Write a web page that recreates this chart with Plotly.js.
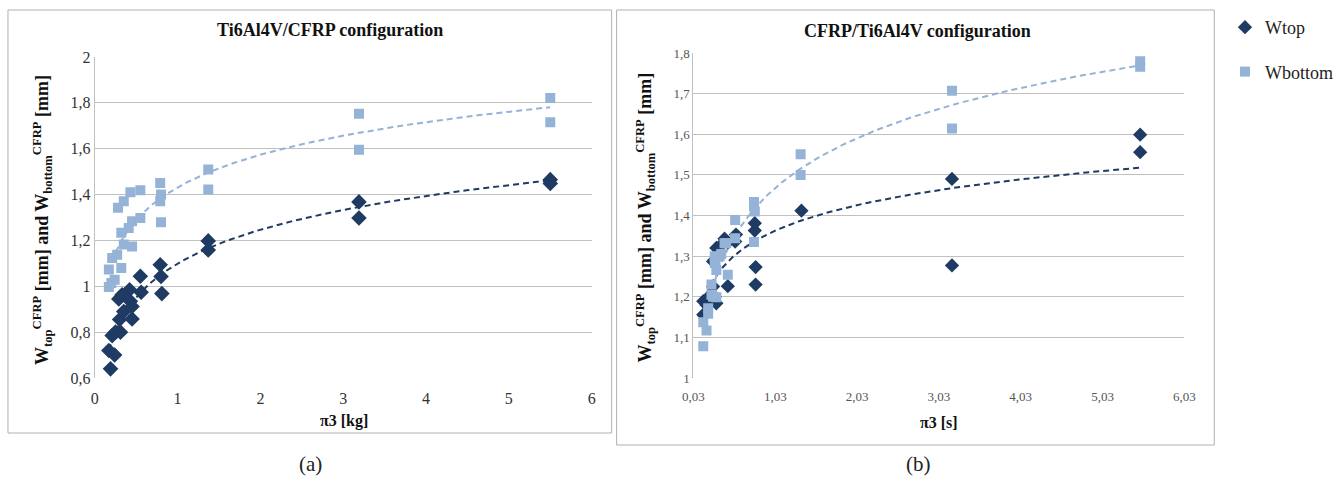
<!DOCTYPE html>
<html>
<head>
<meta charset="utf-8">
<script src="https://cdn.plot.ly/plotly-3.0.1.min.js"></script>
<style>html,body{margin:0;padding:0;background:#fff;}#chart{width:1338px;height:490px;}</style>
</head>
<body>
<div id="chart"></div>
<script>
// ---- Data: (a) Ti6Al4V/CFRP configuration ----
const aTopX = [0.19,0.17,0.24,0.21,0.25,0.31,0.30,0.35,0.45,0.29,0.33,0.42,0.43,0.45,0.55,0.56,0.79,0.80,0.81,1.37,1.37,3.19,3.19,5.50,5.50];
const aTopY = [0.64,0.72,0.70,0.785,0.80,0.80,0.855,0.89,0.857,0.945,0.963,0.985,0.935,0.912,1.044,0.974,1.094,1.043,0.968,1.198,1.158,1.368,1.298,1.465,1.448];
const aBotX = [0.17,0.20,0.17,0.21,0.27,0.24,0.32,0.35,0.32,0.45,0.41,0.45,0.55,0.28,0.35,0.43,0.55,0.79,0.79,0.80,0.80,1.37,1.37,3.19,3.19,5.50,5.50];
const aBotY = [0.997,1.014,1.073,1.123,1.138,1.029,1.08,1.182,1.233,1.174,1.254,1.284,1.298,1.342,1.371,1.41,1.419,1.451,1.371,1.40,1.279,1.422,1.509,1.753,1.596,1.821,1.715];

// ---- Data: (b) CFRP/Ti6Al4V configuration ----
const bTopX = [0.15,0.15,0.21,0.19,0.23,0.29,0.31,0.27,0.27,0.29,0.31,0.34,0.41,0.45,0.45,0.54,0.55,0.78,0.78,0.79,0.79,1.35,3.19,3.19,5.49,5.49];
const bTopY = [1.189,1.156,1.199,1.18,1.185,1.2,1.184,1.225,1.287,1.291,1.32,1.322,1.343,1.334,1.226,1.336,1.353,1.381,1.363,1.273,1.23,1.412,1.49,1.277,1.599,1.556];
const bBotX = [0.15,0.19,0.15,0.21,0.21,0.25,0.25,0.27,0.31,0.31,0.29,0.30,0.29,0.35,0.37,0.41,0.43,0.45,0.54,0.54,0.77,0.78,0.77,0.77,1.34,1.34,3.19,3.19,5.49,5.49];
const bBotY = [1.078,1.117,1.137,1.158,1.172,1.205,1.23,1.2,1.199,1.266,1.283,1.287,1.3,1.3,1.305,1.332,1.332,1.254,1.344,1.389,1.335,1.41,1.423,1.433,1.5,1.551,1.707,1.614,1.78,1.766];

const seriesNames = ['Wtop', 'Wbottom'];
const titles = ['Ti6Al4V/CFRP configuration', 'CFRP/Ti6Al4V configuration'];
const xTitles = ['\u03c03 [kg]', '\u03c03 [s]'];
const panelLabels = ['(a)', '(b)'];
const yTitleText = 'W<sub>top</sub><sup>CFRP</sup> [mm] and W<sub>bottom</sub><sup>CFRP</sup> [mm]';

// ---- Styling ----
const DARK = '#1F3B63';
const LIGHT = '#95B3D7';
const FONT = 'Liberation Serif';
const W = 1338, H = 490;
const px = v => v / W;
const py = v => 1 - v / H;

// logarithmic trendline (least squares on ln x)
function logTrend(xs, ys) {
  const n = xs.length;
  let sx = 0, sy = 0, sxx = 0, sxy = 0;
  for (let i = 0; i < n; i++) {
    const l = Math.log(xs[i]);
    sx += l; sy += ys[i]; sxx += l * l; sxy += l * ys[i];
  }
  const b = (n * sxy - sx * sy) / (n * sxx - sx * sx);
  const a = (sy - b * sx) / n;
  const lo = Math.min(...xs), hi = Math.max(...xs);
  const tx = [], ty = [];
  const N = 120;
  for (let k = 0; k <= N; k++) {
    const x = lo * Math.pow(hi / lo, k / N);
    tx.push(x); ty.push(a + b * Math.log(x));
  }
  return {tx, ty};
}

function pts(x, y, ax, name, sym, color, size, show) {
  return {x, y, xaxis: ax[0], yaxis: ax[1], type: 'scatter', mode: 'markers', name,
    legendgroup: name, showlegend: show,
    marker: {symbol: sym, color, size, line: {width: 0}}, hoverinfo: 'x+y'};
}
function trend(x, y, ax, color) {
  const t = logTrend(x, y);
  return {x: t.tx, y: t.ty, xaxis: ax[0], yaxis: ax[1], type: 'scatter', mode: 'lines',
    showlegend: false, hoverinfo: 'skip', line: {color, width: 2, dash: '6px,4px'}};
}

const A = ['x', 'y'], B = ['x2', 'y2'];
const data = [
  trend(aTopX, aTopY, A, DARK),
  trend(aBotX, aBotY, A, LIGHT),
  pts(aBotX, aBotY, A, seriesNames[1], 'square', LIGHT, 10, false),
  pts(aTopX, aTopY, A, seriesNames[0], 'diamond', DARK, 12, false),
  trend(bTopX, bTopY, B, DARK),
  trend(bBotX, bBotY, B, LIGHT),
  pts(bTopX, bTopY, B, seriesNames[0], 'diamond', DARK, 11, true),
  pts(bBotX, bBotY, B, seriesNames[1], 'square', LIGHT, 10, true)
];

const bold = (size) => ({family: FONT, size, color: '#111', weight: 'bold'});
const grid = '#c0c0c0';
const layout = {
  width: W, height: H,
  margin: {l: 0, r: 0, t: 0, b: 0},
  paper_bgcolor: '#fff', plot_bgcolor: '#fff',
  separators: ',.',
  font: {family: FONT, color: '#222'},
  showlegend: true,
  legend: {x: px(1228), y: py(9), xanchor: 'left', yanchor: 'top',
    font: {family: FONT, size: 18, color: '#222'}, tracegroupgap: 18,
    bgcolor: 'rgba(0,0,0,0)', itemwidth: 30, traceorder: 'grouped'},
  xaxis: {domain: [px(95), px(593)], range: [0, 6], dtick: 1, tick0: 0,
    showgrid: false, zeroline: false, showline: false, ticks: '', ticklabelstandoff: 9,
    tickfont: {family: FONT, size: 16, color: '#333'}, anchor: 'y'},
  yaxis: {domain: [py(378), py(57)], range: [0.6, 2], dtick: 0.2, tick0: 0.6,
    showgrid: true, gridcolor: grid, gridwidth: 1, zeroline: false,
    showline: true, linecolor: grid, ticks: '',
    tickfont: {family: FONT, size: 16, color: '#333'}, anchor: 'x'},
  xaxis2: {domain: [px(695), px(1187)], range: [0.03, 6.03], dtick: 1, tick0: 0.03,
    tickformat: '.2f', showgrid: false, zeroline: false, showline: false, ticks: '', ticklabelstandoff: 9,
    tickfont: {family: FONT, size: 13, color: '#555'}, anchor: 'y2'},
  yaxis2: {domain: [py(378), py(53)], range: [1, 1.8], dtick: 0.1, tick0: 1,
    showgrid: true, gridcolor: grid, gridwidth: 1, zeroline: false,
    showline: true, linecolor: grid, ticks: '',
    tickfont: {family: FONT, size: 13, color: '#555'}, anchor: 'x2'},
  shapes: [
    {type: 'rect', xref: 'paper', yref: 'paper', x0: px(8), x1: px(613), y0: py(433), y1: py(10),
      line: {color: '#b0b0b0', width: 1}},
    {type: 'rect', xref: 'paper', yref: 'paper', x0: px(618), x1: px(1217), y0: py(445), y1: py(10),
      line: {color: '#b0b0b0', width: 1}}
  ],
  annotations: [
    {text: titles[0], xref: 'paper', yref: 'paper', x: px(331), y: py(30),
      xanchor: 'center', yanchor: 'middle', showarrow: false, font: bold(18)},
    {text: titles[1], xref: 'paper', yref: 'paper', x: px(920), y: py(31),
      xanchor: 'center', yanchor: 'middle', showarrow: false, font: bold(18)},
    {text: xTitles[0], xref: 'paper', yref: 'paper', x: px(345), y: py(421),
      xanchor: 'center', yanchor: 'middle', showarrow: false, font: bold(16)},
    {text: xTitles[1], xref: 'paper', yref: 'paper', x: px(941), y: py(422),
      xanchor: 'center', yanchor: 'middle', showarrow: false, font: bold(16)},
    {text: yTitleText, xref: 'paper', yref: 'paper', x: px(42), y: py(220),
      xanchor: 'center', yanchor: 'middle', textangle: -90, showarrow: false, font: bold(18)},
    {text: yTitleText, xref: 'paper', yref: 'paper', x: px(646), y: py(218),
      xanchor: 'center', yanchor: 'middle', textangle: -90, showarrow: false, font: bold(18)},
    {text: panelLabels[0], xref: 'paper', yref: 'paper', x: px(311), y: py(464),
      xanchor: 'center', yanchor: 'middle', showarrow: false, font: {family: FONT, size: 21, color: '#222'}},
    {text: panelLabels[1], xref: 'paper', yref: 'paper', x: px(921), y: py(464),
      xanchor: 'center', yanchor: 'middle', showarrow: false, font: {family: FONT, size: 21, color: '#222'}}
  ]
};

Plotly.newPlot('chart', data, layout, {staticPlot: true, displayModeBar: false});
</script>
</body>
</html>
